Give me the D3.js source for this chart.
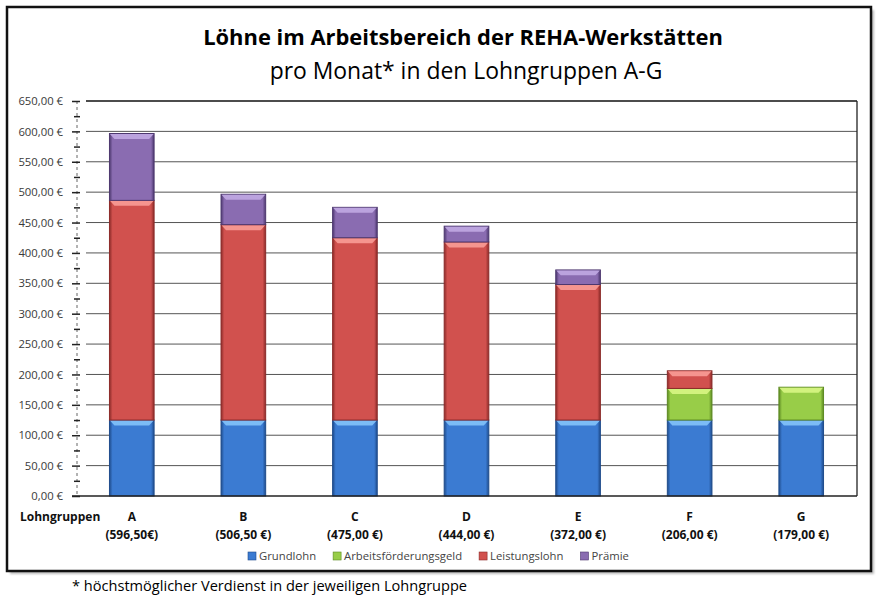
<!DOCTYPE html>
<html>
<head>
<meta charset="utf-8">
<script src="https://cdn.jsdelivr.net/npm/d3@7"></script>
<style>
  body { margin: 0; background: #fff; }
  svg { display: block; font-family: "Open Sans", "DejaVu Sans", sans-serif; }
</style>
</head>
<body>
<script>
// data
var categories = ["A", "B", "C", "D", "E", "F", "G"];
var totalLabels = ["(596,50€)", "(506,50 €)", "(475,00 €)", "(444,00 €)", "(372,00 €)", "(206,00 €)", "(179,00 €)"];
var grundlohn = [125, 125, 125, 125, 125, 125, 125];
var arbeitsfoerderung = [0, 0, 0, 0, 0, 52, 54];
var leistungslohn = [361.5, 321.5, 300, 293, 223, 29, 0];
var praemie = [110, 50, 50, 26, 24, 0, 0];
var seriesNames = ["Grundlohn", "Arbeitsförderungsgeld", "Leistungslohn", "Prämie"];
var majorTicks = d3.range(0, 651, 50);
var minorTicks = d3.range(25, 650, 50);

var colors = [
  {base: "#3b7bd2", light: "#7cbcf6", dark: "#1f4c8c"},
  {base: "#98cd48", light: "#d2f27e", dark: "#5d8a22"},
  {base: "#d1514e", light: "#f5958f", dark: "#8c2b29"},
  {base: "#8a6cb1", light: "#bba3de", dark: "#4d386f"}
];

function init() {
  var w = 880, h = 600;
  var svg = d3.select("body").append("svg").attr("width", w).attr("height", h);
  var defs = svg.append("defs");

  defs.append("filter").attr("id", "blur")
    .append("feGaussianBlur").attr("stdDeviation", 1.2);

  // bar gradients
  colors.forEach(function(c, i) {
    var g = defs.append("linearGradient").attr("id", "grad" + i)
      .attr("x1", 0).attr("x2", 1).attr("y1", 0).attr("y2", 0);
    g.append("stop").attr("offset", "0%").attr("stop-color", c.dark);
    g.append("stop").attr("offset", "7%").attr("stop-color", c.base);
    g.append("stop").attr("offset", "93%").attr("stop-color", c.base);
    g.append("stop").attr("offset", "100%").attr("stop-color", c.dark);
  });

  // frame with shadow
  svg.append("rect").attr("x", 10).attr("y", 10).attr("width", 864).attr("height", 564)
    .attr("fill", "#bbb").attr("filter", "url(#blur)");
  svg.append("rect").attr("x", 7).attr("y", 7).attr("width", 864).attr("height", 564)
    .attr("fill", "#fff").attr("stroke", "#111").attr("stroke-width", 2.5);

  var x = d3.scaleBand()
    .domain(categories)
    .range([76, 857])
    .paddingInner(0.6)
    .paddingOuter(0.3);

  var y = d3.scaleLinear()
    .domain([0, 650])
    .range([496, 101]);

  var gridX0 = 86, gridX1 = 857;

  // gridline shadows
  svg.append("g").selectAll("line")
    .data(majorTicks.filter(function(d) { return d > 0; }))
    .enter().append("line")
    .attr("x1", gridX0).attr("x2", gridX1 - 4)
    .attr("y1", function(d) { return y(d) + 6; })
    .attr("y2", function(d) { return y(d) + 6; })
    .attr("stroke", "#c4c4c4").attr("stroke-width", 5)
    .attr("filter", "url(#blur)");

  // gridlines
  svg.append("g").selectAll("line")
    .data(majorTicks.filter(function(d) { return d > 0; }))
    .enter().append("line")
    .attr("x1", gridX0).attr("x2", gridX1)
    .attr("y1", function(d) { return y(d); })
    .attr("y2", function(d) { return y(d); })
    .attr("stroke", function(d) { return d === 650 ? "#111" : "#555"; })
    .attr("stroke-width", function(d) { return d === 650 ? 1.6 : 1; });

  // stacked bars
  var table = categories.map(function(c, i) {
    return {cat: c, s0: grundlohn[i], s1: arbeitsfoerderung[i], s2: leistungslohn[i], s3: praemie[i]};
  });
  var stack = d3.stack().keys(["s0", "s1", "s2", "s3"]);
  var layers = stack(table);

  var bw = x.bandwidth();
  layers.forEach(function(layer, li) {
    var c = colors[li];
    var g = svg.append("g");
    var segs = g.selectAll("g")
      .data(layer.filter(function(d) { return d[1] - d[0] > 0; }))
      .enter().append("g");
    segs.append("rect")
      .attr("x", function(d) { return x(d.data.cat); })
      .attr("y", function(d) { return y(d[1]); })
      .attr("width", bw)
      .attr("height", function(d) { return y(d[0]) - y(d[1]); })
      .attr("fill", "url(#grad" + li + ")")
      .attr("stroke", c.dark).attr("stroke-width", 1);
    // top bevel
    segs.append("path")
      .attr("d", function(d) {
        var x0 = x(d.data.cat), y0 = y(d[1]);
        var bv = Math.min(5, (y(d[0]) - y(d[1])) / 3);
        return "M" + (x0 + 0.5) + "," + (y0 + 0.5) +
          "L" + (x0 + bw - 0.5) + "," + (y0 + 0.5) +
          "L" + (x0 + bw - 5) + "," + (y0 + bv + 0.5) +
          "L" + (x0 + 5) + "," + (y0 + bv + 0.5) + "Z";
      })
      .attr("fill", c.light);
  });

  // plot right border and x axis line
  svg.append("line").attr("x1", gridX1).attr("x2", gridX1)
    .attr("y1", y(650)).attr("y2", y(0)).attr("stroke", "#222").attr("stroke-width", 1.3);
  svg.append("line").attr("x1", 72).attr("x2", gridX1)
    .attr("y1", y(0)).attr("y2", y(0)).attr("stroke", "#222").attr("stroke-width", 1.3);

  // y axis
  var locale = d3.formatLocale({decimal: ",", thousands: ".", grouping: [3], currency: ["", " €"]});
  var fmt = locale.format("$,.2f");

  svg.append("line").attr("x1", 77).attr("x2", 77)
    .attr("y1", y(650)).attr("y2", y(0))
    .attr("stroke", "#666").attr("stroke-dasharray", "3,3");

  var yAxis = svg.append("g").attr("transform", "translate(80,0)")
    .call(d3.axisLeft(y).tickValues(majorTicks).tickFormat(fmt).tickSize(8).tickPadding(9));
  yAxis.select(".domain").remove();
  yAxis.selectAll("line").attr("stroke", "#222").attr("stroke-width", 1.5);
  yAxis.selectAll("text").attr("font-size", 11.3).attr("fill", "#3a3a3a")
    .attr("font-family", "'Open Sans', sans-serif");

  var yMinor = svg.append("g").attr("transform", "translate(80,0)")
    .call(d3.axisLeft(y).tickValues(minorTicks).tickFormat("").tickSize(6));
  yMinor.select(".domain").remove();
  yMinor.selectAll("line").attr("stroke", "#222").attr("stroke-width", 1.5);

  // x labels
  var xl = svg.append("g").attr("font-weight", "bold").attr("font-size", 12).attr("fill", "#111")
    .attr("text-anchor", "middle");
  xl.selectAll("text.cat").data(categories).enter().append("text").attr("class", "cat")
    .attr("x", function(d) { return x(d) + bw / 2; })
    .attr("y", 521)
    .text(function(d) { return d; });
  xl.selectAll("text.tot").data(totalLabels).enter().append("text").attr("class", "tot")
    .attr("x", function(d, i) { return x(categories[i]) + bw / 2; })
    .attr("y", 539)
    .text(function(d) { return d; });
  svg.append("text").attr("x", 20).attr("y", 521)
    .attr("font-weight", "bold").attr("font-size", 12).attr("fill", "#111")
    .text("Lohngruppen");

  // titles
  var title = svg.append("text").attr("x", 463).attr("y", 45).attr("text-anchor", "middle")
    .attr("font-weight", "bold").attr("font-size", 22).attr("fill", "#000")
    .text("Löhne im Arbeitsbereich der REHA-Werkstätten");
  fitWidth(title, 520);
  var sub = svg.append("text").attr("x", 466).attr("y", 79).attr("text-anchor", "middle")
    .attr("font-size", 21).attr("fill", "#000")
    .text("pro Monat* in den Lohngruppen A-G");
  fitWidth(sub, 393);

  // legend
  var legend = svg.append("g").attr("font-size", 11.3).attr("fill", "#444");
  var items = legend.selectAll("g").data(seriesNames).enter().append("g");
  items.append("rect").attr("width", 8).attr("height", 8).attr("y", 552)
    .attr("fill", function(d, i) { return colors[i].base; })
    .attr("stroke", function(d, i) { return colors[i].dark; }).attr("stroke-width", 0.6);
  items.append("text").attr("x", 11).attr("y", 560).text(function(d) { return d; });
  var cx = 248;
  items.each(function(d, i) {
    var tw = d3.select(this).select("text").node().getComputedTextLength();
    d3.select(this).attr("transform", "translate(" + cx + ",0)");
    cx += 11 + tw + 17;
  });

  // footnote
  var foot = svg.append("text").attr("x", 72).attr("y", 591)
    .attr("font-size", 15).attr("fill", "#000")
    .text("* höchstmöglicher Verdienst in der jeweiligen Lohngruppe");
  fitWidth(foot, 395);
}

function fitWidth(sel, target) {
  var fs = parseFloat(sel.attr("font-size"));
  var len = sel.node().getComputedTextLength();
  sel.attr("font-size", (fs * target / len).toFixed(2));
}

window.onload = init;
</script>
</body>
</html>
